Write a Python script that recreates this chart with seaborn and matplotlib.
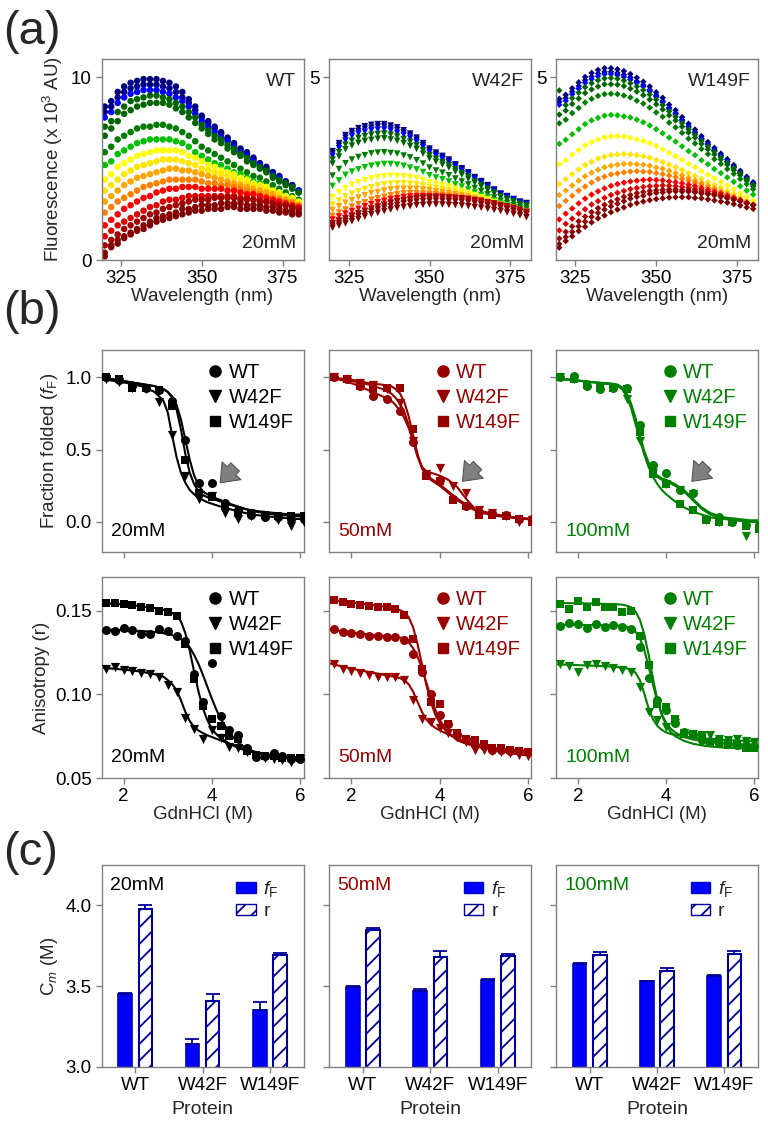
import pandas as pd
import matplotlib
matplotlib.use("Agg")
import matplotlib.pyplot as plt
import seaborn as sns
from matplotlib.lines import Line2D
from matplotlib.patches import Patch

OUT_PATH = "out.png"

# ---------------- (a) emission spectra (x 10^3 AU), 2 nm steps ----------------
wavelengths = [320, 322, 324, 326, 328, 330, 332, 334, 336, 338, 340, 342, 344, 346, 348, 350,
               352, 354, 356, 358, 360, 362, 364, 366, 368, 370, 372, 374, 376, 378, 380]

spectrum_colors = ["#00007F", "#00008B", "#0000FF", "#006400", "#006400", "#007A00", "#00C000",
                   "#FFFF00", "#FFE600", "#FFA500", "#FF8000", "#FF0000", "#E00000", "#A00000",
                   "#8B0000", "#800000"]

wt_spectra = [
    [8.4, 8.7, 9.2, 9.5, 9.7, 9.8, 9.9, 9.9, 9.9, 9.8, 9.7, 9.5, 9.2, 8.8, 8.4, 7.9, 7.6, 7.3, 7.0, 6.7, 6.4, 6.1, 5.9, 5.6, 5.3, 5.1, 4.8, 4.6, 4.3, 4.1, 3.8],
    [8.1, 8.4, 8.9, 9.2, 9.4, 9.5, 9.6, 9.6, 9.6, 9.5, 9.4, 9.2, 8.9, 8.6, 8.2, 7.8, 7.5, 7.2, 6.9, 6.6, 6.3, 6.0, 5.8, 5.5, 5.2, 5.0, 4.8, 4.5, 4.3, 4.1, 3.8],
    [7.8, 8.1, 8.6, 8.9, 9.1, 9.2, 9.3, 9.3, 9.3, 9.2, 9.1, 8.9, 8.7, 8.4, 8.0, 7.6, 7.3, 7.0, 6.7, 6.5, 6.2, 5.9, 5.7, 5.4, 5.2, 4.9, 4.7, 4.5, 4.2, 4.0, 3.8],
    [7.3, 7.6, 8.1, 8.4, 8.7, 8.8, 8.9, 9.0, 9.0, 8.9, 8.8, 8.6, 8.4, 8.1, 7.8, 7.4, 7.1, 6.8, 6.6, 6.3, 6.1, 5.8, 5.6, 5.3, 5.1, 4.9, 4.6, 4.4, 4.2, 4.0, 3.7],
    [6.8, 7.2, 7.6, 8.0, 8.2, 8.4, 8.5, 8.6, 8.6, 8.6, 8.5, 8.3, 8.1, 7.8, 7.5, 7.2, 6.9, 6.6, 6.4, 6.1, 5.9, 5.7, 5.4, 5.2, 5.0, 4.8, 4.5, 4.3, 4.1, 3.9, 3.7],
    [5.9, 6.2, 6.6, 6.8, 7.0, 7.2, 7.3, 7.3, 7.4, 7.4, 7.3, 7.2, 7.0, 6.8, 6.5, 6.2, 6.0, 5.8, 5.6, 5.4, 5.2, 5.0, 4.8, 4.6, 4.5, 4.3, 4.1, 3.9, 3.7, 3.5, 3.3],
    [5.2, 5.4, 5.8, 6.0, 6.2, 6.4, 6.5, 6.6, 6.6, 6.6, 6.6, 6.5, 6.4, 6.2, 5.9, 5.7, 5.5, 5.3, 5.2, 5.0, 4.8, 4.7, 4.5, 4.3, 4.2, 4.0, 3.8, 3.7, 3.5, 3.3, 3.1],
    [4.4, 4.7, 5.1, 5.3, 5.5, 5.7, 5.8, 5.9, 6.0, 6.0, 6.0, 6.0, 5.9, 5.7, 5.6, 5.4, 5.2, 5.1, 4.9, 4.8, 4.7, 4.5, 4.4, 4.2, 4.1, 4.0, 3.8, 3.7, 3.5, 3.4, 3.2],
    [3.8, 4.1, 4.4, 4.7, 4.9, 5.1, 5.2, 5.3, 5.4, 5.5, 5.5, 5.5, 5.4, 5.3, 5.2, 5.0, 4.9, 4.8, 4.7, 4.6, 4.5, 4.3, 4.2, 4.1, 4.0, 3.8, 3.7, 3.6, 3.4, 3.3, 3.1],
    [3.2, 3.5, 3.8, 4.1, 4.3, 4.5, 4.6, 4.7, 4.8, 4.9, 5.0, 5.0, 4.9, 4.9, 4.8, 4.7, 4.6, 4.5, 4.4, 4.3, 4.2, 4.1, 4.0, 3.9, 3.8, 3.7, 3.6, 3.4, 3.3, 3.2, 3.0],
    [2.6, 2.9, 3.2, 3.4, 3.6, 3.8, 4.0, 4.1, 4.2, 4.3, 4.4, 4.4, 4.4, 4.4, 4.4, 4.3, 4.2, 4.2, 4.1, 4.1, 4.0, 3.9, 3.8, 3.7, 3.6, 3.5, 3.4, 3.3, 3.2, 3.1, 3.0],
    [1.9, 2.2, 2.5, 2.8, 3.0, 3.2, 3.4, 3.5, 3.7, 3.8, 3.9, 3.9, 4.0, 4.0, 4.0, 3.9, 3.9, 3.9, 3.9, 3.8, 3.8, 3.7, 3.6, 3.6, 3.5, 3.4, 3.3, 3.2, 3.1, 3.0, 2.9],
    [1.3, 1.6, 1.9, 2.1, 2.3, 2.5, 2.7, 2.9, 3.0, 3.2, 3.3, 3.3, 3.4, 3.5, 3.5, 3.5, 3.5, 3.5, 3.5, 3.5, 3.5, 3.4, 3.4, 3.3, 3.3, 3.2, 3.1, 3.1, 3.0, 2.9, 2.8],
    [0.8, 1.1, 1.4, 1.7, 1.9, 2.1, 2.3, 2.5, 2.6, 2.8, 2.9, 3.0, 3.1, 3.2, 3.3, 3.3, 3.3, 3.4, 3.4, 3.4, 3.4, 3.3, 3.3, 3.3, 3.2, 3.2, 3.1, 3.0, 3.0, 2.9, 2.8],
    [0.4, 0.8, 1.1, 1.3, 1.5, 1.7, 1.9, 2.1, 2.3, 2.4, 2.5, 2.6, 2.8, 2.8, 2.9, 3.0, 3.0, 3.0, 3.1, 3.1, 3.1, 3.1, 3.0, 3.0, 3.0, 2.9, 2.9, 2.8, 2.7, 2.7, 2.6],
    [0.2, 0.7, 0.9, 1.2, 1.4, 1.6, 1.7, 1.9, 2.1, 2.2, 2.3, 2.4, 2.5, 2.6, 2.7, 2.7, 2.8, 2.8, 2.8, 2.9, 2.9, 2.8, 2.8, 2.8, 2.8, 2.7, 2.7, 2.6, 2.6, 2.5, 2.5],
]

w42f_spectra = [
    [2.98, 3.2, 3.42, 3.53, 3.61, 3.66, 3.7, 3.72, 3.72, 3.68, 3.63, 3.55, 3.46, 3.35, 3.2, 3.05, 2.94, 2.85, 2.75, 2.62, 2.51, 2.4, 2.27, 2.16, 2.05, 1.93, 1.82, 1.75, 1.67, 1.6, 1.56],
    [2.92, 3.13, 3.35, 3.46, 3.53, 3.59, 3.62, 3.65, 3.65, 3.61, 3.56, 3.49, 3.4, 3.29, 3.14, 3.0, 2.89, 2.8, 2.71, 2.58, 2.47, 2.36, 2.24, 2.13, 2.02, 1.91, 1.8, 1.73, 1.65, 1.58, 1.54],
    [2.85, 3.06, 3.27, 3.39, 3.46, 3.51, 3.55, 3.57, 3.57, 3.54, 3.48, 3.42, 3.34, 3.23, 3.09, 2.95, 2.85, 2.76, 2.67, 2.55, 2.44, 2.34, 2.22, 2.11, 2.0, 1.89, 1.79, 1.72, 1.65, 1.57, 1.53],
    [2.75, 2.95, 3.16, 3.26, 3.34, 3.39, 3.43, 3.45, 3.46, 3.43, 3.38, 3.31, 3.24, 3.14, 3.0, 2.87, 2.77, 2.68, 2.6, 2.48, 2.38, 2.28, 2.15, 2.05, 1.95, 1.85, 1.75, 1.67, 1.61, 1.54, 1.5],
    [2.64, 2.83, 3.03, 3.13, 3.21, 3.26, 3.29, 3.32, 3.33, 3.3, 3.26, 3.2, 3.12, 3.04, 2.91, 2.78, 2.69, 2.61, 2.53, 2.42, 2.33, 2.22, 2.11, 2.02, 1.91, 1.82, 1.72, 1.65, 1.59, 1.51, 1.47],
    [2.31, 2.49, 2.65, 2.75, 2.82, 2.87, 2.92, 2.94, 2.95, 2.93, 2.91, 2.86, 2.81, 2.73, 2.64, 2.53, 2.45, 2.39, 2.32, 2.23, 2.15, 2.07, 1.97, 1.89, 1.8, 1.71, 1.62, 1.56, 1.5, 1.44, 1.4],
    [2.03, 2.18, 2.33, 2.42, 2.48, 2.54, 2.58, 2.61, 2.63, 2.63, 2.61, 2.58, 2.53, 2.48, 2.41, 2.32, 2.26, 2.21, 2.15, 2.07, 2.01, 1.93, 1.85, 1.78, 1.71, 1.63, 1.56, 1.5, 1.45, 1.38, 1.34],
    [1.72, 1.85, 1.97, 2.06, 2.13, 2.18, 2.23, 2.27, 2.29, 2.31, 2.3, 2.29, 2.27, 2.24, 2.19, 2.13, 2.09, 2.05, 2.01, 1.95, 1.89, 1.84, 1.78, 1.72, 1.66, 1.59, 1.53, 1.48, 1.43, 1.37, 1.32],
    [1.52, 1.63, 1.74, 1.82, 1.88, 1.94, 1.99, 2.04, 2.07, 2.09, 2.1, 2.1, 2.09, 2.07, 2.04, 2.0, 1.97, 1.94, 1.9, 1.87, 1.82, 1.78, 1.72, 1.67, 1.62, 1.56, 1.51, 1.46, 1.41, 1.35, 1.31],
    [1.37, 1.47, 1.57, 1.64, 1.71, 1.77, 1.83, 1.86, 1.9, 1.93, 1.95, 1.95, 1.95, 1.95, 1.93, 1.91, 1.88, 1.86, 1.83, 1.8, 1.77, 1.73, 1.68, 1.64, 1.59, 1.55, 1.49, 1.45, 1.4, 1.34, 1.3],
    [1.21, 1.3, 1.38, 1.46, 1.53, 1.58, 1.65, 1.69, 1.73, 1.77, 1.8, 1.82, 1.83, 1.83, 1.82, 1.81, 1.8, 1.78, 1.76, 1.74, 1.71, 1.68, 1.65, 1.61, 1.57, 1.52, 1.48, 1.44, 1.39, 1.34, 1.29],
    [1.11, 1.19, 1.27, 1.34, 1.4, 1.47, 1.53, 1.58, 1.62, 1.67, 1.69, 1.72, 1.74, 1.75, 1.75, 1.75, 1.74, 1.73, 1.71, 1.7, 1.67, 1.65, 1.61, 1.58, 1.55, 1.51, 1.47, 1.42, 1.39, 1.33, 1.29],
    [1.01, 1.08, 1.15, 1.22, 1.28, 1.35, 1.41, 1.46, 1.51, 1.56, 1.6, 1.63, 1.64, 1.67, 1.68, 1.68, 1.68, 1.68, 1.66, 1.65, 1.64, 1.61, 1.59, 1.56, 1.53, 1.49, 1.46, 1.42, 1.38, 1.32, 1.27],
    [1.0, 1.07, 1.14, 1.2, 1.27, 1.34, 1.41, 1.46, 1.51, 1.57, 1.61, 1.64, 1.67, 1.69, 1.71, 1.72, 1.72, 1.72, 1.71, 1.7, 1.69, 1.67, 1.64, 1.62, 1.58, 1.55, 1.51, 1.47, 1.43, 1.38, 1.32],
    [0.94, 1.0, 1.07, 1.13, 1.2, 1.26, 1.33, 1.38, 1.43, 1.47, 1.51, 1.55, 1.57, 1.6, 1.61, 1.62, 1.62, 1.62, 1.61, 1.6, 1.59, 1.57, 1.55, 1.52, 1.49, 1.46, 1.43, 1.39, 1.34, 1.3, 1.25],
    [0.88, 0.94, 1.0, 1.06, 1.12, 1.19, 1.25, 1.29, 1.34, 1.38, 1.42, 1.45, 1.47, 1.5, 1.51, 1.52, 1.52, 1.52, 1.51, 1.5, 1.49, 1.47, 1.45, 1.43, 1.4, 1.37, 1.34, 1.3, 1.26, 1.22, 1.17],
]

w149f_spectra = [
    [4.41, 4.52, 4.7, 4.86, 5.01, 5.12, 5.2, 5.25, 5.25, 5.22, 5.17, 5.09, 4.99, 4.88, 4.75, 4.59, 4.44, 4.25, 4.1, 3.91, 3.73, 3.57, 3.39, 3.23, 3.07, 2.91, 2.76, 2.6, 2.44, 2.28, 2.13],
    [4.33, 4.43, 4.61, 4.76, 4.92, 5.02, 5.1, 5.15, 5.15, 5.12, 5.07, 5.0, 4.89, 4.79, 4.66, 4.51, 4.35, 4.17, 4.02, 3.84, 3.66, 3.5, 3.32, 3.17, 3.01, 2.86, 2.7, 2.55, 2.39, 2.24, 2.09],
    [4.25, 4.36, 4.54, 4.69, 4.85, 4.95, 5.03, 5.09, 5.09, 5.06, 5.01, 4.94, 4.85, 4.75, 4.62, 4.47, 4.32, 4.14, 3.99, 3.81, 3.64, 3.48, 3.31, 3.16, 3.0, 2.85, 2.7, 2.54, 2.39, 2.24, 2.09],
    [4.64, 4.24, 4.43, 4.58, 4.73, 4.84, 4.92, 4.97, 4.98, 4.96, 4.91, 4.84, 4.75, 4.65, 4.53, 4.39, 4.24, 4.07, 3.92, 3.75, 3.58, 3.43, 3.26, 3.11, 2.97, 2.81, 2.66, 2.52, 2.37, 2.21, 2.06],
    [3.98, 4.09, 4.27, 4.42, 4.57, 4.67, 4.75, 4.81, 4.81, 4.8, 4.76, 4.69, 4.61, 4.51, 4.39, 4.26, 4.12, 3.96, 3.82, 3.65, 3.49, 3.35, 3.18, 3.03, 2.89, 2.75, 2.61, 2.46, 2.32, 2.17, 2.02],
    [3.74, 3.84, 4.02, 4.16, 4.31, 4.41, 4.49, 4.54, 4.55, 4.54, 4.5, 4.45, 4.36, 4.28, 4.17, 4.04, 3.92, 3.76, 3.63, 3.48, 3.32, 3.19, 3.04, 2.9, 2.76, 2.63, 2.49, 2.36, 2.22, 2.08, 1.94],
    [3.18, 3.29, 3.44, 3.58, 3.72, 3.82, 3.89, 3.95, 3.97, 3.96, 3.93, 3.9, 3.84, 3.77, 3.68, 3.58, 3.47, 3.35, 3.24, 3.11, 2.98, 2.87, 2.73, 2.62, 2.49, 2.38, 2.26, 2.14, 2.02, 1.9, 1.79],
    [2.62, 2.73, 2.88, 3.01, 3.14, 3.23, 3.3, 3.36, 3.38, 3.39, 3.38, 3.35, 3.3, 3.26, 3.2, 3.12, 3.03, 2.93, 2.84, 2.74, 2.63, 2.54, 2.43, 2.33, 2.24, 2.14, 2.04, 1.94, 1.83, 1.73, 1.63],
    [2.08, 2.21, 2.35, 2.48, 2.6, 2.69, 2.78, 2.83, 2.87, 2.89, 2.9, 2.89, 2.87, 2.84, 2.8, 2.74, 2.68, 2.61, 2.54, 2.46, 2.38, 2.3, 2.22, 2.13, 2.06, 1.98, 1.89, 1.81, 1.72, 1.63, 1.54],
    [1.78, 1.9, 2.04, 2.17, 2.29, 2.39, 2.47, 2.54, 2.58, 2.61, 2.63, 2.63, 2.62, 2.61, 2.58, 2.53, 2.5, 2.44, 2.38, 2.32, 2.25, 2.18, 2.11, 2.04, 1.97, 1.89, 1.82, 1.74, 1.66, 1.59, 1.5],
    [1.48, 1.62, 1.76, 1.9, 2.01, 2.12, 2.22, 2.28, 2.34, 2.37, 2.4, 2.42, 2.43, 2.42, 2.41, 2.38, 2.35, 2.31, 2.27, 2.22, 2.17, 2.11, 2.05, 1.98, 1.93, 1.85, 1.79, 1.72, 1.65, 1.57, 1.51],
    [1.11, 1.27, 1.41, 1.55, 1.68, 1.79, 1.88, 1.96, 2.03, 2.08, 2.12, 2.15, 2.17, 2.19, 2.2, 2.19, 2.18, 2.15, 2.13, 2.1, 2.06, 2.02, 1.97, 1.92, 1.87, 1.82, 1.76, 1.7, 1.64, 1.57, 1.51],
    [0.81, 0.99, 1.13, 1.27, 1.39, 1.52, 1.61, 1.7, 1.78, 1.84, 1.89, 1.94, 1.97, 2.0, 2.02, 2.03, 2.04, 2.03, 2.02, 2.0, 1.98, 1.94, 1.91, 1.87, 1.82, 1.77, 1.73, 1.68, 1.62, 1.56, 1.5],
    [0.59, 0.77, 0.92, 1.06, 1.19, 1.31, 1.42, 1.51, 1.59, 1.66, 1.73, 1.78, 1.83, 1.86, 1.89, 1.91, 1.92, 1.93, 1.93, 1.92, 1.91, 1.88, 1.86, 1.82, 1.8, 1.75, 1.71, 1.66, 1.61, 1.56, 1.51],
    [0.44, 0.63, 0.77, 0.92, 1.05, 1.18, 1.29, 1.38, 1.47, 1.54, 1.61, 1.68, 1.73, 1.76, 1.81, 1.84, 1.85, 1.87, 1.88, 1.87, 1.87, 1.85, 1.82, 1.8, 1.77, 1.73, 1.69, 1.65, 1.61, 1.55, 1.51],
    [0.34, 0.52, 0.65, 0.79, 0.91, 1.03, 1.14, 1.22, 1.31, 1.38, 1.44, 1.51, 1.56, 1.6, 1.64, 1.67, 1.69, 1.71, 1.72, 1.72, 1.72, 1.7, 1.69, 1.66, 1.63, 1.6, 1.57, 1.53, 1.49, 1.44, 1.4],
]

# ---------------- (b) GdnHCl titrations ----------------
gdn_ff = [1.6, 1.9, 2.2, 2.5, 2.8, 3.1, 3.4, 3.7, 4.0, 4.3, 4.6, 4.9, 5.2, 5.5, 5.8, 6.1]
gdn_r = [1.6, 1.8, 2.0, 2.2, 2.4, 2.6, 2.8, 3.0, 3.2, 3.4, 3.6, 3.8, 4.0, 4.2, 4.4, 4.6,
         4.8, 5.0, 5.2, 5.4, 5.6, 5.8, 6.0]
gdn_fit = [1.5, 1.8, 2.1, 2.4, 2.7, 2.9, 3.0, 3.1, 3.2, 3.3, 3.4, 3.5, 3.6, 3.7, 3.8, 3.9,
           4.0, 4.1, 4.2, 4.4, 4.6, 4.8, 5.0, 5.3, 5.6, 5.9, 6.1]

# fraction folded, measured
ff_20_wt = [1.00, 0.98, 0.94, 0.93, 0.91, 0.84, 0.57, 0.27, 0.27, 0.13, 0.08, 0.05, 0.03, 0.03, 0.02, 0.02]
ff_20_w42f = [0.99, 0.97, 0.93, 0.92, 0.83, 0.60, 0.32, 0.16, 0.18, 0.06, 0.02, 0.04, 0.03, 0.01, -0.03, 0.00]
ff_20_w149f = [1.00, 0.99, 0.93, 0.93, 0.91, 0.80, 0.43, 0.20, 0.17, 0.11, 0.06, 0.06, 0.05, 0.04, 0.04, 0.04]
ff_50_wt = [1.00, 0.99, 0.94, 0.87, 0.85, 0.77, 0.55, 0.33, 0.29, 0.16, 0.11, 0.07, 0.06, 0.05, 0.02, 0.02]
ff_50_w42f = [1.00, 0.99, 0.96, 0.95, 0.92, 0.82, 0.56, 0.33, 0.37, 0.25, 0.20, 0.08, 0.06, 0.04, 0.00, 0.01]
ff_50_w149f = [1.00, 0.99, 0.94, 0.92, 0.93, 0.93, 0.64, 0.32, 0.28, 0.15, 0.11, 0.05, 0.05, 0.04, 0.02, 0.00]
ff_100_wt = [1.00, 1.01, 0.94, 0.92, 0.93, 0.93, 0.67, 0.39, 0.34, 0.22, 0.20, 0.02, 0.03, 0.00, -0.02, -0.02]
ff_100_w42f = [1.00, 0.99, 0.94, 0.93, 0.93, 0.85, 0.56, 0.34, 0.26, 0.22, 0.19, 0.01, 0.00, 0.00, -0.10, -0.05]
ff_100_w149f = [1.00, 0.99, 0.95, 0.93, 0.93, 0.92, 0.62, 0.33, 0.26, 0.12, 0.08, 0.01, 0.00, 0.00, -0.03, -0.05]

# fraction folded, fitted curves
fit_ff_20_wt = [1.0, 0.985, 0.97, 0.955, 0.94, 0.92, 0.90, 0.87, 0.81, 0.71, 0.57, 0.43, 0.32, 0.25, 0.21, 0.19, 0.175, 0.162, 0.15, 0.125, 0.105, 0.085, 0.07, 0.055, 0.045, 0.04, 0.035]
fit_ff_20_w42f = [0.99, 0.975, 0.96, 0.94, 0.90, 0.84, 0.76, 0.60, 0.45, 0.34, 0.27, 0.22, 0.19, 0.17, 0.15, 0.135, 0.125, 0.115, 0.105, 0.088, 0.072, 0.058, 0.047, 0.036, 0.027, 0.02, 0.018]
fit_ff_20_w149f = [1.0, 0.985, 0.97, 0.955, 0.94, 0.92, 0.90, 0.86, 0.78, 0.64, 0.47, 0.34, 0.26, 0.21, 0.185, 0.17, 0.16, 0.15, 0.14, 0.12, 0.10, 0.085, 0.075, 0.065, 0.055, 0.05, 0.05]
fit_ff_50_wt = [1.0, 0.98, 0.95, 0.91, 0.87, 0.84, 0.81, 0.77, 0.72, 0.65, 0.56, 0.46, 0.38, 0.33, 0.30, 0.28, 0.26, 0.235, 0.21, 0.16, 0.12, 0.09, 0.07, 0.05, 0.035, 0.025, 0.02]
fit_ff_50_w42f = [1.0, 0.99, 0.97, 0.95, 0.92, 0.89, 0.86, 0.82, 0.76, 0.67, 0.56, 0.45, 0.38, 0.35, 0.34, 0.33, 0.32, 0.305, 0.29, 0.24, 0.16, 0.09, 0.06, 0.04, 0.03, 0.02, 0.02]
fit_ff_50_w149f = [1.0, 0.99, 0.98, 0.96, 0.95, 0.94, 0.92, 0.89, 0.83, 0.73, 0.60, 0.47, 0.37, 0.32, 0.29, 0.27, 0.25, 0.225, 0.20, 0.15, 0.11, 0.08, 0.06, 0.045, 0.03, 0.02, 0.015]
fit_ff_100_wt = [0.99, 0.985, 0.975, 0.965, 0.96, 0.95, 0.93, 0.89, 0.82, 0.72, 0.60, 0.49, 0.41, 0.35, 0.32, 0.30, 0.29, 0.275, 0.26, 0.22, 0.16, 0.10, 0.06, 0.03, 0.02, 0.01, 0.01]
fit_ff_100_w42f = [0.99, 0.985, 0.975, 0.965, 0.955, 0.945, 0.92, 0.87, 0.79, 0.68, 0.57, 0.47, 0.39, 0.34, 0.31, 0.29, 0.28, 0.265, 0.25, 0.21, 0.15, 0.09, 0.05, 0.02, 0.01, 0.0, 0.0]
fit_ff_100_w149f = [0.99, 0.985, 0.975, 0.965, 0.955, 0.94, 0.92, 0.88, 0.81, 0.71, 0.59, 0.47, 0.38, 0.31, 0.26, 0.22, 0.19, 0.165, 0.14, 0.10, 0.07, 0.05, 0.03, 0.02, 0.01, 0.0, 0.0]

# anisotropy, measured
r_20_wt = [0.1385, 0.138, 0.1397, 0.1385, 0.1357, 0.136, 0.139, 0.138, 0.1346, 0.132, 0.112, 0.0955, 0.1187, 0.087, 0.0787, 0.0757, 0.068, 0.0624, 0.063, 0.0648, 0.063, 0.0615, 0.0615]
r_20_w42f = [0.1153, 0.1163, 0.1147, 0.1138, 0.1128, 0.112, 0.1104, 0.1055, 0.1015, 0.0856, 0.0791, 0.0732, 0.0787, 0.0738, 0.0688, 0.0678, 0.0658, 0.0628, 0.0619, 0.0613, 0.0609, 0.0593, 0.0613]
r_20_w149f = [0.1544, 0.1544, 0.154, 0.1536, 0.152, 0.1514, 0.150, 0.149, 0.1465, 0.130, 0.109, 0.093, 0.085, 0.081, 0.075, 0.073, 0.066, 0.064, 0.063, 0.063, 0.062, 0.062, 0.062]
r_50_wt = [0.1391, 0.1371, 0.1365, 0.136, 0.135, 0.1345, 0.134, 0.134, 0.1325, 0.1242, 0.1133, 0.1004, 0.0875, 0.0825, 0.0756, 0.073, 0.0696, 0.069, 0.067, 0.0667, 0.0663, 0.066, 0.0655]
r_50_w42f = [0.1179, 0.1153, 0.1139, 0.1127, 0.1113, 0.1103, 0.1103, 0.1103, 0.1083, 0.0964, 0.0855, 0.0835, 0.0796, 0.0766, 0.0746, 0.0717, 0.0667, 0.0667, 0.0663, 0.0657, 0.0647, 0.0637, 0.0631]
r_50_w149f = [0.156, 0.155, 0.154, 0.1536, 0.153, 0.1524, 0.152, 0.151, 0.1476, 0.133, 0.115, 0.0954, 0.094, 0.0825, 0.0766, 0.073, 0.0726, 0.0702, 0.068, 0.0677, 0.0667, 0.0663, 0.0657]
r_100_wt = [0.1405, 0.1425, 0.1417, 0.1395, 0.142, 0.140, 0.1415, 0.140, 0.139, 0.128, 0.110, 0.0965, 0.0905, 0.0826, 0.0776, 0.076, 0.0724, 0.072, 0.071, 0.0705, 0.070, 0.0695, 0.069]
r_100_w42f = [0.1183, 0.1167, 0.1133, 0.1173, 0.118, 0.1167, 0.1159, 0.1143, 0.1133, 0.1044, 0.0895, 0.0845, 0.0806, 0.083, 0.077, 0.0762, 0.0748, 0.0756, 0.0735, 0.0728, 0.073, 0.0722, 0.0715]
r_100_w149f = [0.154, 0.151, 0.1554, 0.152, 0.155, 0.152, 0.152, 0.1494, 0.150, 0.135, 0.1173, 0.0944, 0.0925, 0.085, 0.0762, 0.0762, 0.0755, 0.0716, 0.072, 0.0697, 0.0697, 0.0677, 0.0677]

# anisotropy, fitted curves
fit_r_20_wt = [0.1385, 0.1385, 0.138, 0.1378, 0.1372, 0.1365, 0.136, 0.1353, 0.1345, 0.133, 0.131, 0.128, 0.1235, 0.118, 0.1115, 0.1045, 0.0975, 0.091, 0.0855, 0.077, 0.071, 0.0675, 0.0655, 0.064, 0.063, 0.0625, 0.0622]
fit_r_20_w42f = [0.1158, 0.1152, 0.1145, 0.1135, 0.112, 0.1105, 0.1085, 0.106, 0.1025, 0.0965, 0.0895, 0.084, 0.0805, 0.0783, 0.0768, 0.0755, 0.0745, 0.0735, 0.0725, 0.0705, 0.0685, 0.0668, 0.0652, 0.0635, 0.062, 0.061, 0.0605]
fit_r_20_w149f = [0.1545, 0.154, 0.1535, 0.1525, 0.1515, 0.1505, 0.1495, 0.1485, 0.147, 0.1435, 0.1365, 0.126, 0.1135, 0.1015, 0.0915, 0.0845, 0.0795, 0.0762, 0.074, 0.0705, 0.068, 0.066, 0.065, 0.0635, 0.0625, 0.062, 0.0618]
fit_r_50_wt = [0.139, 0.1375, 0.1365, 0.1357, 0.135, 0.1345, 0.1342, 0.1339, 0.1335, 0.131, 0.1275, 0.1225, 0.1155, 0.107, 0.0985, 0.091, 0.085, 0.0805, 0.077, 0.0725, 0.0705, 0.069, 0.068, 0.067, 0.0665, 0.066, 0.0655]
fit_r_50_w42f = [0.1185, 0.1165, 0.1148, 0.1133, 0.1118, 0.1108, 0.1103, 0.1096, 0.1085, 0.106, 0.1015, 0.0955, 0.0895, 0.085, 0.082, 0.08, 0.0785, 0.0772, 0.076, 0.0738, 0.0718, 0.07, 0.0685, 0.0665, 0.065, 0.0638, 0.0632]
fit_r_50_w149f = [0.1565, 0.1555, 0.1545, 0.1535, 0.1525, 0.1515, 0.151, 0.1502, 0.149, 0.146, 0.14, 0.13, 0.118, 0.1055, 0.0955, 0.088, 0.083, 0.0795, 0.077, 0.0735, 0.071, 0.0695, 0.0685, 0.0672, 0.0665, 0.066, 0.0655]
fit_r_100_wt = [0.1415, 0.1415, 0.1414, 0.1413, 0.1411, 0.141, 0.1408, 0.1403, 0.1395, 0.1375, 0.1335, 0.1265, 0.1165, 0.1055, 0.0955, 0.088, 0.0828, 0.0795, 0.0772, 0.0745, 0.073, 0.0722, 0.0715, 0.0707, 0.0702, 0.0698, 0.0695]
fit_r_100_w42f = [0.1178, 0.1176, 0.1173, 0.117, 0.1166, 0.1162, 0.116, 0.1155, 0.1148, 0.113, 0.1085, 0.1005, 0.0915, 0.085, 0.081, 0.0787, 0.0772, 0.0763, 0.0757, 0.0748, 0.0742, 0.0737, 0.0733, 0.0728, 0.0724, 0.072, 0.0718]
fit_r_100_w149f = [0.1545, 0.1544, 0.1543, 0.1541, 0.1539, 0.1537, 0.1535, 0.1529, 0.152, 0.1495, 0.1445, 0.136, 0.1235, 0.109, 0.0965, 0.0875, 0.0815, 0.0775, 0.075, 0.0722, 0.0705, 0.0695, 0.0688, 0.0682, 0.0678, 0.0675, 0.0673]

# ---------------- (c) midpoints Cm (M) ----------------
proteins = ["WT", "W42F", "W149F"]
cm_ff_20 = [3.45, 3.14, 3.355]
cm_ff_20_err = [0.005, 0.035, 0.05]
cm_r_20 = [3.98, 3.41, 3.69]
cm_r_20_err = [0.02, 0.04, 0.017]
cm_ff_50 = [3.495, 3.468, 3.54]
cm_ff_50_err = [0.004, 0.017, 0.005]
cm_r_50 = [3.845, 3.68, 3.685]
cm_r_50_err = [0.012, 0.04, 0.017]
cm_ff_100 = [3.64, 3.53, 3.565]
cm_ff_100_err = [0.006, 0.0, 0.004]
cm_r_100 = [3.69, 3.594, 3.70]
cm_r_100_err = [0.02, 0.019, 0.017]

salts = ["20mM", "50mM", "100mM"]
salt_colors = ["black", "#990000", "#008000"]

FRAME = "#808080"
BAR_BLUE = "#0000FF"
BAR_NAVY = "#000099"
TICK_FS = 13.5
LABEL_FS = 13.5

COL_LEFT = [0.1322, 0.4288, 0.7240]
COL_W = 0.2630
ROW_A = (0.7701, 0.1777)
ROW_FF = (0.5119, 0.1786)
ROW_R = (0.3121, 0.1777)
ROW_CM = (0.0566, 0.1786)


def setup_style():
    sns.set_theme(style="white")
    plt.rcParams["font.family"] = ["Liberation Sans", "DejaVu Sans"]
    plt.rcParams["mathtext.fontset"] = "custom"
    plt.rcParams["mathtext.rm"] = "Liberation Sans"
    plt.rcParams["mathtext.it"] = "Liberation Sans:italic"
    plt.rcParams["mathtext.bf"] = "Liberation Sans:bold"
    plt.rcParams["hatch.linewidth"] = 1.3


def style_axes(ax):
    for spine in ax.spines.values():
        spine.set_visible(True)
        spine.set_color(FRAME)
        spine.set_linewidth(1.0)
    ax.tick_params(axis="both", which="both", direction="out", length=4, width=1,
                   color=FRAME, labelsize=TICK_FS, labelcolor="black", pad=3,
                   bottom=True, left=True, top=False, right=False)
    ax.set_xlabel("")
    ax.set_ylabel("")


def plot_spectra(ax, spectra, marker, size, name, ytop, yticks):
    rows = []
    for i, spec in enumerate(spectra):
        for wl, val in zip(wavelengths, spec):
            rows.append((wl, val, i))
    df = pd.DataFrame(rows, columns=["wl", "F", "idx"])
    palette = {i: spectrum_colors[i] for i in range(len(spectra))}
    sns.scatterplot(data=df, x="wl", y="F", hue="idx", palette=palette, marker=marker,
                    s=size, linewidth=0, legend=False, ax=ax)
    style_axes(ax)
    ax.set_xlim(319, 381.5)
    ax.set_ylim(0, ytop)
    ax.set_xticks([325, 350, 375])
    ax.set_yticks(yticks)
    ax.set_xlabel("Wavelength (nm)", fontsize=LABEL_FS, labelpad=1)
    ax.text(0.965, 0.93, name, transform=ax.transAxes, ha="right", va="top", fontsize=14)
    ax.text(0.965, 0.04, "20mM", transform=ax.transAxes, ha="right", va="bottom", fontsize=14)


def plot_titration(ax, x_pts, series, fits, color, salt, ylim, yticks, arrow=None):
    markers = ["o", "v", "s"]
    sizes = [42, 44, 34]
    for pts, fit, mk, sz in zip(series, fits, markers, sizes):
        sns.lineplot(x=gdn_fit, y=fit, color=color, linewidth=1.5, errorbar=None,
                     legend=False, ax=ax)
        sns.scatterplot(x=x_pts, y=pts, marker=mk, s=sz, color=color, linewidth=0,
                        legend=False, ax=ax, zorder=3)
    style_axes(ax)
    ax.set_xlim(1.5, 6.08)
    ax.set_ylim(*ylim)
    ax.set_xticks([2, 4, 6])
    ax.set_yticks(yticks)
    handles = [Line2D([], [], ls="", marker=mk, color=color, markersize=ms)
               for mk, ms in zip(markers, [8, 8, 7])]
    ax.legend(handles, proteins, loc="upper right", bbox_to_anchor=(1.03, 1.015),
              frameon=False, fontsize=14.5, handlelength=0.7, handletextpad=0.3,
              labelspacing=0.3, borderpad=0.3, labelcolor=color)
    ax.text(0.045, 0.06, salt, transform=ax.transAxes, ha="left", va="bottom",
            fontsize=14, color=color)
    if arrow is not None:
        tip, tail = arrow
        ax.annotate("", xy=tip, xytext=tail,
                    arrowprops=dict(arrowstyle="simple,head_length=0.7,head_width=1.1,tail_width=0.5",
                                    mutation_scale=17, fc="#7f7f7f", ec="#4d4d4d", lw=0.7,
                                    shrinkA=0, shrinkB=0))


def plot_cm(ax, ff, ff_err, r, r_err, salt, color):
    df = pd.DataFrame({"protein": proteins * 2,
                       "kind": ["fF"] * 3 + ["r"] * 3,
                       "cm": ff + r})
    sns.barplot(data=df, x="protein", y="cm", hue="kind", hue_order=["fF", "r"],
                palette={"fF": BAR_BLUE, "r": "white"}, width=0.6, gap=0.33,
                saturation=1, errorbar=None, legend=False, linewidth=1.2, ax=ax)
    ff_bars, r_bars = [], []
    for p in ax.patches:
        if p.get_facecolor()[:3] == (1.0, 1.0, 1.0):
            p.set_hatch("//")
            p.set_edgecolor(BAR_NAVY)
            p.set_linewidth(1.5)
            r_bars.append(p)
        else:
            p.set_edgecolor("#0000CC")
            ff_bars.append(p)
    for bars, vals, errs in [(ff_bars, ff, ff_err), (r_bars, r, r_err)]:
        xs = [b.get_x() + b.get_width() / 2 for b in bars]
        ax.errorbar(xs, vals, yerr=[[0] * len(errs), errs], fmt="none", ecolor=BAR_NAVY,
                    elinewidth=1.3, capsize=5, capthick=1.3, zorder=4)
    style_axes(ax)
    ax.set_xlim(-0.5, 2.5)
    ax.set_ylim(3.0, 4.25)
    ax.set_yticks([3.0, 3.5, 4.0])
    ax.set_xlabel("Protein", fontsize=LABEL_FS + 0.5, labelpad=5)
    handles = [Patch(facecolor=BAR_BLUE, edgecolor="#0000CC"),
               Patch(facecolor="white", edgecolor=BAR_NAVY, hatch="//")]
    ax.legend(handles, [r"$\mathit{f}_{\mathrm{F}}$", "r"], loc="upper left",
              bbox_to_anchor=(0.58, 1.015), frameon=False, fontsize=14,
              handlelength=1.0, handleheight=0.5, handletextpad=0.4, labelspacing=0.2)
    ax.text(0.04, 0.94, salt, transform=ax.transAxes, ha="left", va="top",
            fontsize=14, color=color)


def main():
    setup_style()
    fig = plt.figure(figsize=(7.68, 11.31), dpi=100)

    # (a) spectra
    spec_sets = [(wt_spectra, "o", 22, "WT", 11.0, [0, 10]),
                 (w42f_spectra, "v", 22, "W42F", 5.5, [5]),
                 (w149f_spectra, "D", 11, "W149F", 5.5, [5])]
    for j, (spectra, mk, sz, name, ytop, yt) in enumerate(spec_sets):
        ax = fig.add_axes([COL_LEFT[j], ROW_A[0], COL_W, ROW_A[1]])
        plot_spectra(ax, spectra, mk, sz, name, ytop, yt)
        if j == 0:
            ax.set_ylabel(r"Fluorescence (x 10$^3$ AU)", fontsize=LABEL_FS)

    # (b) fraction folded and anisotropy
    ff_sets = [[ff_20_wt, ff_20_w42f, ff_20_w149f],
               [ff_50_wt, ff_50_w42f, ff_50_w149f],
               [ff_100_wt, ff_100_w42f, ff_100_w149f]]
    ff_fits = [[fit_ff_20_wt, fit_ff_20_w42f, fit_ff_20_w149f],
               [fit_ff_50_wt, fit_ff_50_w42f, fit_ff_50_w149f],
               [fit_ff_100_wt, fit_ff_100_w42f, fit_ff_100_w149f]]
    r_sets = [[r_20_wt, r_20_w42f, r_20_w149f],
              [r_50_wt, r_50_w42f, r_50_w149f],
              [r_100_wt, r_100_w42f, r_100_w149f]]
    r_fits = [[fit_r_20_wt, fit_r_20_w42f, fit_r_20_w149f],
              [fit_r_50_wt, fit_r_50_w42f, fit_r_50_w149f],
              [fit_r_100_wt, fit_r_100_w42f, fit_r_100_w149f]]
    arrows = [((4.19, 0.27), (4.53, 0.38)),
              ((4.52, 0.28), (4.86, 0.39)),
              ((4.58, 0.28), (4.92, 0.39))]

    for j in range(3):
        ax = fig.add_axes([COL_LEFT[j], ROW_FF[0], COL_W, ROW_FF[1]])
        plot_titration(ax, gdn_ff, ff_sets[j], ff_fits[j], salt_colors[j], salts[j],
                       (-0.21, 1.19), [0.0, 0.5, 1.0], arrow=arrows[j])
        ax.set_xticklabels([])
        if j == 0:
            ax.set_yticklabels(["0.0", "0.5", "1.0"])
            ax.set_ylabel(r"Fraction folded ($\mathit{f}_{\mathrm{F}}$)", fontsize=LABEL_FS)
        else:
            ax.set_yticklabels([])

        ax = fig.add_axes([COL_LEFT[j], ROW_R[0], COL_W, ROW_R[1]])
        plot_titration(ax, gdn_r, r_sets[j], r_fits[j], salt_colors[j], salts[j],
                       (0.05, 0.17), [0.05, 0.10, 0.15])
        ax.set_xticklabels(["2", "4", "6"])
        ax.set_xlabel("GdnHCl (M)", fontsize=LABEL_FS, labelpad=1)
        if j == 0:
            ax.set_yticklabels(["0.05", "0.10", "0.15"])
            ax.set_ylabel("Anisotropy (r)", fontsize=LABEL_FS)
        else:
            ax.set_yticklabels([])

    # (c) Cm bars
    cm_sets = [(cm_ff_20, cm_ff_20_err, cm_r_20, cm_r_20_err),
               (cm_ff_50, cm_ff_50_err, cm_r_50, cm_r_50_err),
               (cm_ff_100, cm_ff_100_err, cm_r_100, cm_r_100_err)]
    for j, (ff, ffe, r, re) in enumerate(cm_sets):
        ax = fig.add_axes([COL_LEFT[j], ROW_CM[0], COL_W, ROW_CM[1]])
        plot_cm(ax, ff, ffe, r, re, salts[j], salt_colors[j])
        if j == 0:
            ax.set_yticklabels(["3.0", "3.5", "4.0"])
            ax.set_ylabel(r"C$_{\mathit{m}}$ (M)", fontsize=LABEL_FS)
        else:
            ax.set_yticklabels([])

    fig.text(0.004, 0.9717, "(a)", fontsize=34, va="center", ha="left")
    fig.text(0.004, 0.7241, "(b)", fontsize=34, va="center", ha="left")
    fig.text(0.004, 0.2458, "(c)", fontsize=34, va="center", ha="left")

    fig.savefig(OUT_PATH, dpi=100)
    plt.close(fig)


if __name__ == "__main__":
    main()
